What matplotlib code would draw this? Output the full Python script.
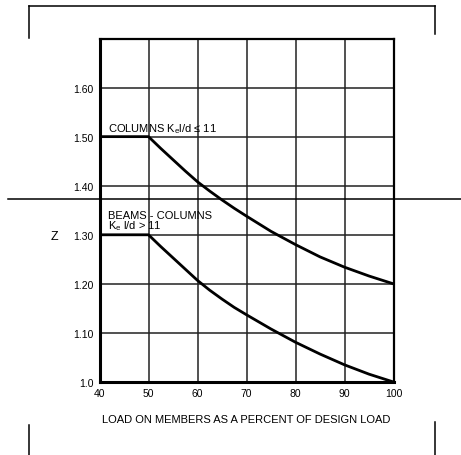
import matplotlib.pyplot as plt
from matplotlib.lines import Line2D

plt.switch_backend('Agg')
plt.rcParams['font.family'] = ['Liberation Sans', 'DejaVu Sans']
plt.rcParams['mathtext.fontset'] = 'custom'
plt.rcParams['mathtext.rm'] = 'Liberation Sans'
plt.rcParams['mathtext.it'] = 'Liberation Sans'

# load as percent of design load
load_pct = [40, 50, 52.5, 55, 57.5, 60, 62.5, 65, 67.5, 70, 75, 80, 85, 90, 95, 100]
# Z factor, columns Ke l/d <= 11
z_columns = [1.50, 1.50, 1.476, 1.453, 1.430, 1.408, 1.389, 1.371, 1.354, 1.338,
             1.307, 1.280, 1.255, 1.234, 1.216, 1.20]
# Z factor, beams - columns Ke l/d > 11
z_beams = [1.30, 1.30, 1.276, 1.253, 1.230, 1.207, 1.187, 1.169, 1.152, 1.137,
           1.108, 1.081, 1.057, 1.035, 1.016, 1.00]

x_ticks = [40, 50, 60, 70, 80, 90, 100]
y_ticks = [1.0, 1.1, 1.2, 1.3, 1.4, 1.5, 1.6, 1.7]
y_labels = ['1.0', '1.10', '1.20', '1.30', '1.40', '1.50', '1.60', '']

W, H = 461, 456
fig = plt.figure(figsize=(W / 100, H / 100), dpi=100)
ax = fig.add_axes([99.5 / W, (H - 383) / H, 294 / W, 343.5 / H])

ax.plot(load_pct, z_columns, color='black', lw=2.0, solid_capstyle='butt',
        solid_joinstyle='round', zorder=3)
ax.plot(load_pct, z_beams, color='black', lw=2.0, solid_capstyle='butt',
        solid_joinstyle='round', zorder=3)

ax.set_xlim(40, 100)
ax.set_ylim(1.0, 1.7)
ax.set_xticks(x_ticks)
ax.set_yticks(y_ticks)
ax.set_yticklabels(y_labels)
ax.tick_params(length=0, labelsize=7.5)
ax.tick_params(axis='y', pad=4)
ax.tick_params(axis='x', pad=4)
ax.grid(True, color='#222222', lw=1.1)
ax.set_axisbelow(True)
for side in ['left', 'bottom']:
    ax.spines[side].set_linewidth(2.2)
for side in ['top', 'right']:
    ax.spines[side].set_linewidth(1.6)

ax.text(41.8, 1.517, 'COLUMNS K$_\\mathrm{e}$l/d ≤ 11', fontsize=8, ha='left', va='center')
ax.text(41.8, 1.341, 'BEAMS - COLUMNS', fontsize=8, ha='left', va='center')
ax.text(41.8, 1.319, 'K$_\\mathrm{e}$ l/d > 11', fontsize=8, ha='left', va='center')

ax.set_ylabel('Z', fontsize=9, rotation=0, va='center', ha='center')
ax.yaxis.set_label_coords(-45 / 294, 0.425)
ax.set_xlabel('LOAD ON MEMBERS AS A PERCENT OF DESIGN LOAD', fontsize=8, labelpad=12)

# page frame marks around the figure
def page_line(x0, y0, x1, y1):
    fig.add_artist(Line2D([x0 / W, x1 / W], [1 - y0 / H, 1 - y1 / H],
                          transform=fig.transFigure, color='black', lw=1.1))

page_line(29, 7, 435, 7)
page_line(29, 7, 29, 39)
page_line(435, 7, 435, 35)
page_line(8, 200, 461, 200)
page_line(29, 426, 29, 456)
page_line(435, 423, 435, 456)

fig.savefig('out.png', dpi=100)
